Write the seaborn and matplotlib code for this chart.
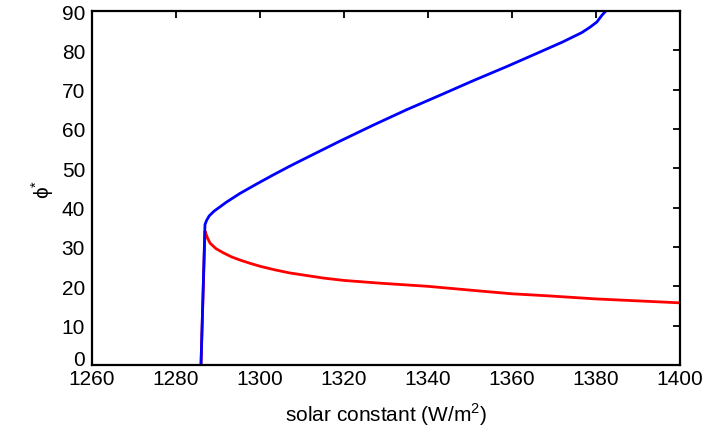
import matplotlib
matplotlib.use("Agg")
import matplotlib.pyplot as plt
import seaborn as sns
import pandas as pd

# upper (stable) branch, incl. the near-vertical start
blue_S = [1285.95, 1286.9, 1287.3, 1287.9, 1289.05, 1292.0, 1295.2, 1299.0, 1303.1, 1307.0,
          1311.1, 1319.0, 1327.0, 1334.9, 1342.9, 1350.8, 1358.8, 1366.7, 1372.0, 1376.6,
          1378.6, 1380.2, 1381.4, 1382.6]
blue_phi = [0.0, 35.7, 36.8, 37.9, 39.1, 41.4, 43.6, 45.9, 48.3, 50.5,
            52.7, 56.9, 61.0, 64.9, 68.6, 72.3, 75.9, 79.6, 82.1, 84.5,
            85.9, 87.2, 88.9, 90.3]

# lower (unstable) branch
red_S = [1285.95, 1286.9, 1287.5, 1288.1, 1289.5, 1291.3, 1293.2, 1295.2, 1297.5, 1300.0,
         1303.5, 1307.1, 1315.1, 1320.0, 1328.6, 1340.0, 1352.5, 1360.0, 1368.3, 1380.0,
         1390.0, 1400.0]
red_phi = [0.0, 34.0, 32.3, 31.0, 29.6, 28.5, 27.5, 26.7, 25.9, 25.1,
           24.2, 23.4, 22.1, 21.5, 20.8, 20.0, 18.8, 18.1, 17.6, 16.8,
           16.3, 15.8]

xticks = [1260, 1280, 1300, 1320, 1340, 1360, 1380, 1400]
yticks = [0, 10, 20, 30, 40, 50, 60, 70, 80, 90]

sns.set_theme(style="white")
plt.rcParams['font.family'] = ['Liberation Sans', 'DejaVu Sans']
plt.rcParams['mathtext.fontset'] = 'custom'
plt.rcParams['mathtext.rm'] = 'Liberation Sans'

fig = plt.figure(figsize=(7.13, 4.35), dpi=100)
ax = fig.add_axes([92/713, 69/435, 588/713, 354/435])

red_df = pd.DataFrame({"S": red_S, "phi": red_phi})
blue_df = pd.DataFrame({"S": blue_S, "phi": blue_phi})
sns.lineplot(data=red_df, x="S", y="phi", sort=False, estimator=None,
             color="#ff0000", linewidth=2.0, ax=ax)
sns.lineplot(data=blue_df, x="S", y="phi", sort=False, estimator=None,
             color="#0000ff", linewidth=2.0, ax=ax)

ax.set_xlim(1260, 1400)
ax.set_ylim(0, 90)
ax.set_xticks(xticks)
ax.set_yticks(yticks)
ax.tick_params(direction="in", length=5, width=1.3, top=True, right=True,
               labelsize=15, colors="black")
ax.tick_params(axis="x", pad=3)
ax.tick_params(axis="y", pad=5)
# MATLAB-like: lift the corner "0" label so it clears the "1260" label
ylabels = ax.get_yticklabels()
ylabels[0].set_verticalalignment("baseline")
for s in ax.spines.values():
    s.set_visible(True)
    s.set_color("black")
    s.set_linewidth(1.6)
ax.set_xlabel("solar constant (W/m$^{\\mathrm{2}}$)", fontsize=15, color="black", labelpad=9)
ax.set_ylabel("ϕ$^{*}$", fontsize=15, color="black", labelpad=4)
ax.grid(False)

fig.savefig("out.png", dpi=100, facecolor="white")
